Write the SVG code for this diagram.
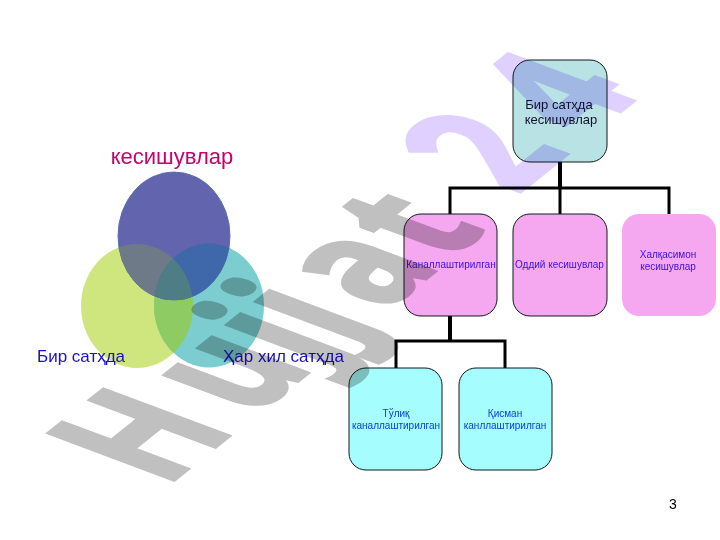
<svg xmlns="http://www.w3.org/2000/svg" width="720" height="540" viewBox="0 0 720 540">
<style>
text{font-family:"Liberation Sans",Arial,sans-serif}
.box{stroke:#101818;stroke-width:1}
.t{text-anchor:middle}
.s{font-size:10px;fill:#3a10d8}
.c{font-size:10px;fill:#0a40e0}
.lab{font-size:17px;fill:#1a10c8}
.line{fill:none;stroke:#000;stroke-width:3}
.stem{fill:none;stroke:#000;stroke-width:4}
.wm{font-family:"Open Sans",sans-serif;font-weight:bold;font-size:100px;mix-blend-mode:multiply;stroke-width:2.500;stroke-linejoin:miter}
</style>
<defs>
<clipPath id="cG"><ellipse cx="137" cy="306" rx="56" ry="62"/></clipPath>
<clipPath id="cT"><ellipse cx="209" cy="305.500" rx="55" ry="62"/></clipPath>
<clipPath id="cB"><ellipse cx="174" cy="236" rx="56" ry="64"/></clipPath>
</defs>
<rect width="720" height="540" fill="#fff"/>
<g id="venn">
<ellipse cx="137" cy="306" rx="56" ry="62" fill="#cfe57e"/>
<ellipse cx="209" cy="305.500" rx="55" ry="62" fill="#7ccdcf"/>
<g clip-path="url(#cG)"><ellipse cx="209" cy="305.500" rx="55" ry="62" fill="#8ecb62"/></g>
<ellipse cx="174" cy="236" rx="56" ry="64" fill="#6264ae" stroke="#5a70b0" stroke-width="1"/>
<g clip-path="url(#cB)">
<ellipse cx="137" cy="306" rx="56" ry="62" fill="#6f7a88"/>
<ellipse cx="209" cy="305.500" rx="55" ry="62" fill="#3f68aa"/>
<g clip-path="url(#cG)"><ellipse cx="209" cy="305.500" rx="55" ry="62" fill="#4f7d85"/></g>
</g>
</g>
<g id="connectors">
<path class="stem" d="M560 162V187M450 316V340"/>
<path class="line" d="M450 214V188H669V214M560 188V214"/>
<path class="line" d="M396 368V341H505V368"/>
</g>
<g id="n-root"><rect class="box" x="513" y="60" width="94" height="102" rx="17" fill="#b9e2e4"/>
<text class="t" font-size="13" fill="#101030" x="560" y="109"><tspan x="559">Бир сатҳда</tspan><tspan x="561" dy="15">кесишувлар</tspan></text></g>
<g id="n-kanal"><rect class="box" x="404" y="214" width="93" height="102" rx="17" fill="#f5a8f0"/>
<text class="t s" x="451" y="268">Каналлаштирилган</text></g>
<g id="n-oddiy"><rect class="box" x="513" y="214" width="94" height="102" rx="17" fill="#f5a8f0"/>
<text class="t s" x="559.500" y="268">Оддий кесишувлар</text></g>
<g id="n-halqa"><rect x="622" y="214" width="94" height="102" rx="17" fill="#f5a8f0"/>
<text class="t s" x="668" y="258"><tspan x="668">Халқасимон</tspan><tspan x="668" dy="12">кесишувлар</tspan></text></g>
<g id="n-tuliq"><rect class="box" x="349" y="368" width="93" height="102" rx="17" fill="#a5fdfd"/>
<text class="t c" x="396" y="417"><tspan x="396">Тўлиқ</tspan><tspan x="396" dy="12">каналлаштирилган</tspan></text></g>
<g id="n-qisman"><rect class="box" x="459" y="368" width="93" height="102" rx="17" fill="#a5fdfd"/>
<text class="t c" x="505" y="417"><tspan x="505">Қисман</tspan><tspan x="505" dy="12">канллаштирилган</tspan></text></g>
<text class="t" x="172" y="164" font-size="22" fill="#c8006a">кесишувлар</text>
<text class="lab" x="37" y="362">Бир сатҳда</text>
<text class="lab" x="223" y="362">Ҳар хил сатҳда</text>
<text x="669" y="509" font-size="14" fill="#000">3</text>
<g id="watermark">
<text class="wm" transform="matrix(.95 -.76 1.75 .655 165 487)" fill="#c0c0c0" stroke="#c0c0c0" dx="0 16 0 0 12 5">Hujjat</text>
<text class="wm" transform="matrix(.95 -.76 1.75 .655 516 195)" fill="#e0d0ff" stroke="#e0d0ff" dx="0 20">24</text>
</g>
</svg>
